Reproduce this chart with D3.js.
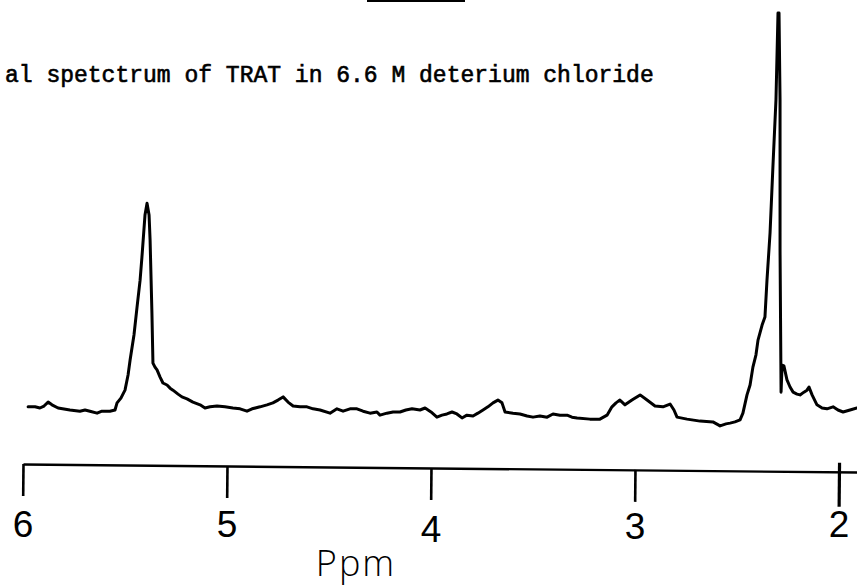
<!DOCTYPE html>
<html>
<head>
<meta charset="utf-8">
<script src="https://cdn.jsdelivr.net/npm/d3@7/dist/d3.min.js"></script>
<style>
  html, body { margin: 0; padding: 0; background: #fff; }
  svg { display: block; }
</style>
</head>
<body>
<svg id="chart" width="857" height="587"></svg>
<script>
// Chemical shift (ppm) and relative intensity of the trace, read left to right (high ppm to low ppm)
const shiftPpm = [
  5.975, 5.941, 5.917, 5.897, 5.877, 5.858, 5.828, 5.770, 5.721, 5.696, 5.672, 5.637, 5.613, 5.574, 5.549,
  5.539, 5.520, 5.500, 5.485, 5.475, 5.456, 5.441, 5.426, 5.417, 5.402, 5.392, 5.382, 5.377, 5.368, 5.363,
  5.353, 5.343, 5.328, 5.314, 5.294, 5.279, 5.265, 5.240, 5.221, 5.196, 5.167, 5.132, 5.108, 5.083, 5.049,
  5.010, 4.971, 4.936, 4.902, 4.877, 4.838, 4.804, 4.775, 4.750, 4.725, 4.701, 4.676, 4.642, 4.608, 4.578,
  4.544, 4.495, 4.461, 4.431, 4.397, 4.363, 4.333, 4.299, 4.265, 4.250, 4.216, 4.186, 4.152, 4.123, 4.093,
  4.054, 4.029, 4.000, 3.971, 3.946, 3.922, 3.897, 3.873, 3.848, 3.824, 3.794, 3.770, 3.745, 3.721, 3.696,
  3.672, 3.652, 3.637, 3.598, 3.564, 3.529, 3.500, 3.466, 3.431, 3.402, 3.368, 3.333, 3.309, 3.284, 3.221,
  3.172, 3.137, 3.113, 3.093, 3.074, 3.049, 3.015, 2.975, 2.941, 2.902, 2.863, 2.828, 2.809, 2.794, 2.745,
  2.681, 2.618, 2.583, 2.554, 2.534, 2.510, 2.485, 2.471, 2.451, 2.436, 2.422, 2.407, 2.397, 2.377, 2.363,
  2.353, 2.338, 2.324, 2.309, 2.299, 2.294, 2.289, 2.289, 2.284, 2.279, 2.270, 2.255, 2.240, 2.225, 2.206,
  2.191, 2.172, 2.157, 2.147, 2.132, 2.108, 2.083, 2.059, 2.029, 2.005, 1.980, 1.946, 1.912
];
const intensity = [
  0.8, 0.8, 0.5, 1.0, 2.0, 1.3, 0.5, 0.0, -0.3, 0.0, -0.3, -0.8, -0.3, -0.3, 0.0,
  1.8, 3.0, 5.0, 8.8, 12.6, 18.9, 25.9, 32.7, 38.5, 49.1, 52.1, 49.1, 42.8, 24.4, 11.8,
  10.8, 10.1, 8.3, 6.8, 6.3, 5.5, 5.0, 4.0, 3.3, 2.8, 2.0, 1.3, 0.5, 0.8, 1.0,
  0.8, 0.5, 0.3, -0.3, 0.3, 0.8, 1.3, 1.8, 2.5, 3.3, 2.0, 1.0, 0.8, 0.8, 0.3,
  0.0, -0.8, 0.3, -0.3, 0.3, 0.3, -0.3, -0.8, -0.5, -1.3, -0.8, -0.5, -0.5, 0.0, 0.3,
  0.0, 0.5, -0.5, -1.8, -1.3, -1.0, -0.5, -1.0, -2.0, -1.3, -1.5, -0.8, 0.0, 0.8, 1.8,
  2.5, 1.8, -0.5, -0.8, -1.0, -1.5, -1.8, -1.5, -1.8, -1.0, -1.3, -1.3, -1.8, -2.0, -2.3,
  -2.3, -1.3, 0.8, 1.8, 2.5, 1.3, 2.5, 3.8, 2.5, 1.0, 0.8, 1.5, 0.0, -1.8, -2.3,
  -2.8, -3.0, -4.0, -3.5, -3.3, -3.0, -2.5, -0.8, 3.8, 6.3, 10.8, 13.9, 17.6, 21.4, 23.4,
  32.7, 44.6, 61.2, 78.1, 100, 100, 78.1, 40.3, 4.5, 11.3, 11.1, 7.6, 5.8, 4.5, 4.0,
  3.8, 4.5, 5.0, 5.8, 3.8, 1.3, 0.5, 0.3, 0.8, 0.0, -0.5, 0.0, 0.5
];

// Axis ticks and texts
const tickValues = [6, 5, 4, 3, 2];
const tickLabels = ["6", "5", "4", "3", "2"];
const axisTitle = "Ppm";
const caption = "al spetctrum of TRAT in 6.6 M deterium chloride";

const width = 857, height = 587;
const svg = d3.select("#chart");
svg.append("rect").attr("width", width).attr("height", height).attr("fill", "#fff");

// Shift axis runs right-to-left, as usual for NMR
const x = d3.scaleLinear().domain([6, 2]).range([23, 839]);
const y = d3.scaleLinear().domain([0, 100]).range([410, 13]);

// Heading rule at the very top
svg.append("line")
  .attr("x1", 367).attr("x2", 465).attr("y1", 1).attr("y2", 1)
  .attr("stroke", "#000").attr("stroke-width", 2.2);

// Caption (typewritten look: a thin outline thickens the strokes)
svg.append("text")
  .attr("x", 5).attr("y", 82)
  .attr("font-family", "'Liberation Mono', 'DejaVu Sans Mono', monospace")
  .attr("font-size", 23)
  .attr("fill", "#000")
  .attr("stroke", "#000")
  .attr("stroke-width", 0.6)
  .text(caption);

// Spectrum trace
const points = shiftPpm.map((p, i) => [p, intensity[i]]);
const line = d3.line().x(d => x(d[0])).y(d => y(d[1])).curve(d3.curveLinear);
svg.append("path")
  .datum(points)
  .attr("d", line)
  .attr("fill", "none")
  .attr("stroke", "#000")
  .attr("stroke-width", 3)
  .attr("stroke-linejoin", "round")
  .attr("stroke-linecap", "round");

// Scale bar (slightly tilted, as on the chart recorder paper)
const axisScale = x.copy().domain([6, x.invert(width)]).range([23, width]);
const axisG = svg.append("g")
  .attr("transform", "translate(0,464) rotate(0.55,23,0)");
axisG.call(
  d3.axisBottom(axisScale)
    .tickValues(tickValues)
    .tickSize(32)
    .tickSizeOuter(0)
    .tickFormat("")
);
axisG.select(".domain").attr("stroke", "#000").attr("stroke-width", 2.4);
axisG.selectAll(".tick line").attr("stroke", "#000").attr("stroke-width", 2.6);
axisG.selectAll(".tick").filter(d => d === 2).select("line")
  .attr("y1", -9).attr("y2", 35).attr("stroke-width", 3.2);

// Tick labels
svg.append("g").selectAll("text")
  .data(tickValues)
  .join("text")
  .attr("x", d => x(d))
  .attr("y", d => (d === 4 ? 542 : d === 3 ? 539 : 537))
  .attr("text-anchor", "middle")
  .attr("font-family", "'Liberation Sans', Arial, sans-serif")
  .attr("font-size", 37)
  .attr("fill", "#000")
  .text((d, i) => tickLabels[i]);

// Unit label
svg.append("text")
  .attr("x", 356).attr("y", 576)
  .attr("text-anchor", "middle")
  .attr("font-family", "'Open Sans', 'DejaVu Sans', sans-serif")
  .attr("font-weight", 300)
  .attr("font-size", 36)
  .attr("letter-spacing", 2)
  .attr("fill", "#000")
  .text(axisTitle);
</script>
</body>
</html>
